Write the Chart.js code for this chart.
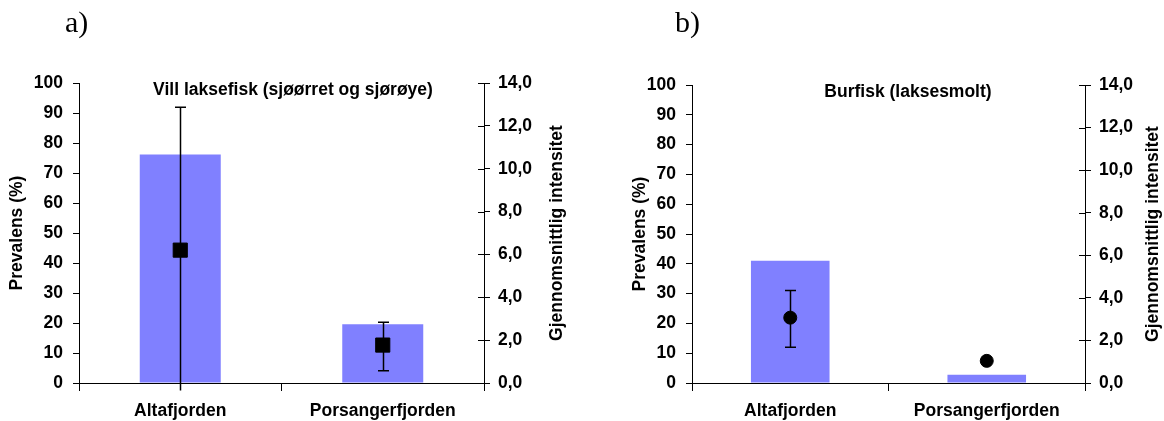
<!DOCTYPE html>
<html>
<head>
<meta charset="utf-8">
<script src="https://cdn.jsdelivr.net/npm/chart.js@4.4.1/dist/chart.umd.min.js"></script>
<style>
  body { margin: 0; background: #fff; }
  #wrap { position: relative; width: 1164px; height: 421px; }
  canvas { position: absolute; top: 0; }
  #chartA { left: 0; }
  #chartB { left: 582px; }
</style>
</head>
<body>
<div id="wrap">
  <canvas id="chartA" width="582" height="421"></canvas>
  <canvas id="chartB" width="582" height="421"></canvas>
</div>
<script>
// data
var categories = ['Altafjorden', 'Porsangerfjorden'];

// a) Vill laksefisk
var prevalensA = [76.2, 19.6];
var intensitetA = [6.2, 1.77];
var intensitetA_lo = [-0.35, 0.57];
var intensitetA_hi = [12.87, 2.83];

// b) Burfisk
var prevalensB = [41.0, 2.8];
var intensitetB = [3.07, 1.04];
var intensitetB_lo = [1.68, null];
var intensitetB_hi = [4.34, null];

var FONT = '"Liberation Sans", Arial, sans-serif';
var FSIZE = 17.5;
var barColor = '#8080FF';

// error bars, titles and the inner half of right ticks
var extras = {
    id: 'extras',
    beforeDatasetDraw: function(chart, args, o) {
        if (args.index !== 1) return;
        var ctx = chart.ctx, x = chart.scales.x, y2 = chart.scales.y2;
        ctx.save();
        ctx.strokeStyle = '#000';
        ctx.lineWidth = 1.5;
        o.lo.forEach(function(lo, i) {
            var hi = o.hi[i];
            if (lo == null) return;
            var px = Math.round(x.getPixelForValue(i)) + 0.5;
            var yl = y2.getPixelForValue(lo), yh = y2.getPixelForValue(hi);
            ctx.beginPath();
            ctx.moveTo(px, yl); ctx.lineTo(px, yh);
            ctx.moveTo(px - 5.5, yh); ctx.lineTo(px + 5.5, yh);
            if (lo >= 0) { ctx.moveTo(px - 5.5, yl); ctx.lineTo(px + 5.5, yl); }
            ctx.stroke();
        });
        ctx.restore();
    },
    afterDraw: function(chart, args, o) {
        var ctx = chart.ctx, area = chart.chartArea, y2 = chart.scales.y2;
        ctx.save();
        ctx.strokeStyle = '#000';
        ctx.lineWidth = 1;
        y2.ticks.forEach(function(t) {
            var py = Math.round(y2.getPixelForValue(t.value)) + 0.5;
            ctx.beginPath();
            ctx.moveTo(area.right - 6, py); ctx.lineTo(area.right, py);
            ctx.stroke();
        });
        ctx.fillStyle = '#000';
        ctx.font = 'bold ' + FSIZE + 'px ' + FONT;
        ctx.textAlign = 'center';
        ctx.textBaseline = 'alphabetic';
        ctx.fillText(o.title, o.tx, o.ty);

        var midY = (area.top + area.bottom) / 2;
        ctx.textBaseline = 'middle';
        ctx.save();
        ctx.translate(o.lx, midY);
        ctx.rotate(-Math.PI / 2);
        ctx.fillText('Prevalens (%)', 0, 0);
        ctx.restore();
        ctx.save();
        ctx.translate(o.rx, midY);
        ctx.rotate(-Math.PI / 2);
        ctx.fillText('Gjennomsnittlig intensitet', 0, 0);
        ctx.restore();

        ctx.font = '30px "Liberation Serif", "Times New Roman", serif';
        ctx.textAlign = 'left';
        ctx.textBaseline = 'alphabetic';
        ctx.fillText(o.panel, o.px, 32);
        ctx.restore();
    }
};

function makeChart(id, prev, inten, lo, hi, marker, radius, opt) {
    var ctx = document.getElementById(id).getContext('2d');
    return new Chart(ctx, {
        type: 'bar',
        data: {
            labels: categories,
            datasets: [{
                type: 'bar',
                data: prev,
                backgroundColor: barColor,
                borderWidth: 0,
                yAxisID: 'y',
                barPercentage: 0.4,
                categoryPercentage: 1,
                order: 2
            }, {
                type: 'line',
                data: inten,
                showLine: false,
                pointStyle: marker,
                pointRadius: radius,
                pointBackgroundColor: '#000',
                pointBorderColor: '#000',
                pointBorderWidth: 1,
                yAxisID: 'y2',
                order: 1
            }]
        },
        options: {
            responsive: false,
            animation: false,
            layout: { padding: { top: opt.top, left: 0, right: 0, bottom: 0 } },
            plugins: {
                legend: { display: false },
                tooltip: { enabled: false },
                extras: opt.extras
            },
            scales: {
                x: {
                    grid: { drawOnChartArea: false, tickLength: 8, color: '#000', offset: true },
                    border: { color: '#000', width: 1 },
                    ticks: { color: '#000', font: { family: FONT, size: FSIZE, weight: 'bold' }, padding: 10, maxRotation: 0 },
                    afterFit: function(s) { s.height = 38; }
                },
                y: {
                    position: 'left',
                    min: 0, max: 100,
                    ticks: { stepSize: 10, color: '#000', font: { family: FONT, size: FSIZE, weight: 'bold' }, padding: 10 },
                    grid: { drawOnChartArea: false, tickLength: 6, color: '#000' },
                    border: { color: '#000', width: 1 },
                    afterFit: function(s) { s.width = opt.leftW; }
                },
                y2: {
                    position: 'right',
                    min: 0, max: 14,
                    ticks: {
                        stepSize: 2, color: '#000', padding: 8,
                        font: { family: FONT, size: FSIZE, weight: 'bold' },
                        callback: function(v) { return v.toFixed(1).replace('.', ','); }
                    },
                    grid: { drawOnChartArea: false, tickLength: 6, color: '#000' },
                    border: { color: '#000', width: 1 },
                    afterFit: function(s) { s.width = opt.rightW; }
                }
            }
        },
        plugins: [extras]
    });
}

makeChart('chartA', prevalensA, intensitetA, intensitetA_lo, intensitetA_hi, 'rect', 10, {
    top: 83, leftW: 79, rightW: 98,
    extras: { lo: intensitetA_lo, hi: intensitetA_hi, title: 'Vill laksefisk (sjøørret og sjørøye)',
              tx: 293, ty: 95, lx: 17, rx: 557, panel: 'a)', px: 65 }
});
makeChart('chartB', prevalensB, intensitetB, intensitetB_lo, intensitetB_hi, 'circle', 6.5, {
    top: 85, leftW: 110, rightW: 79,
    extras: { lo: intensitetB_lo, hi: intensitetB_hi, title: 'Burfisk (laksesmolt)',
              tx: 326, ty: 97, lx: 58, rx: 571, panel: 'b)', px: 93 }
});
</script>
</body>
</html>
